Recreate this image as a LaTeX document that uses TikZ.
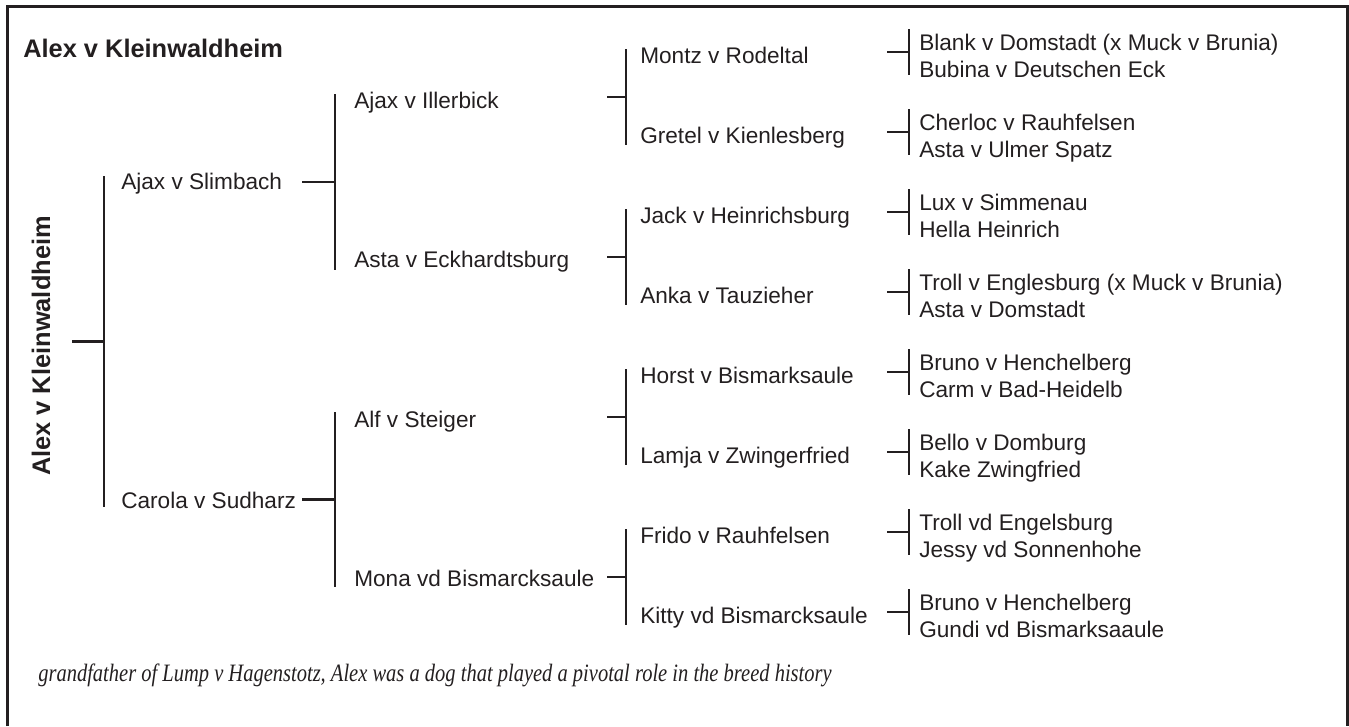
\documentclass[tikz,border=0pt]{standalone}
\usepackage{fontspec}
\setmainfont{Liberation Sans}
\newfontfamily\notefont[ItalicFeatures={FakeStretch=0.82}]{Liberation Serif}
\usepackage{xcolor}
\usetikzlibrary{calc}
\definecolor{ink}{RGB}{35,31,32}
% bar in front of two children, tick from its middle back to the parent
\newcommand{\bracket}[6]{%
  \draw ($(#1.base west)+(-#3,#5)$) coordinate (bt) -- ($(#2.base west)+(-#3,#6)$) coordinate (bb);
  \draw ($(bt)!0.5!(bb)$) -- ++(-#4,0);}

\begin{document}
\begin{tikzpicture}[x=1pt,y=-1pt,line width=2.6pt,ink,
  dog/.style={anchor=base west,inner sep=0pt,text=ink,font=\fontsize{22.6}{27}\selectfont},
  head/.style={inner sep=0pt,text=ink,font=\bfseries\fontsize{25.4}{30}\selectfont}]
\useasboundingbox (0,0) rectangle (1349,726);
% frame, open at the foot
\draw[line width=3pt] (7,726) -- (7,6) -- (1347,6) -- (1347,726);

\node[head,anchor=base west] (title) at (22,57) {Alex v Kleinwaldheim};
\node[head,anchor=base,rotate=90] (alex) at (50,346) {Alex v Kleinwaldheim};

% parents
\node[dog] (slimbach) at (120,189) {Ajax v Slimbach};
\node[dog] (sudharz)  at (120,508) {Carola v Sudharz};

% grandparents
\node[dog] (illerbick) at (353,108) {Ajax v Illerbick};
\node[dog] (eckhardt)  at (353,267) {Asta v Eckhardtsburg};
\node[dog] (steiger)   at (353,427) {Alf v Steiger};
\node[dog] (monavd)    at (353,586) {Mona vd Bismarcksaule};

% great-grandparents
\node[dog] (rodeltal)  at (639,63)  {Montz v Rodeltal};
\node[dog] (kienles)   at (639,143) {Gretel v Kienlesberg};
\node[dog] (heinrichs) at (639,223) {Jack v Heinrichsburg};
\node[dog] (tauzieher) at (639,303) {Anka v Tauzieher};
\node[dog] (horst)     at (639,383) {Horst v Bismarksaule};
\node[dog] (lamja)     at (639,463) {Lamja v Zwingerfried};
\node[dog] (frido)     at (639,543) {Frido v Rauhfelsen};
\node[dog] (kitty)     at (639,623) {Kitty vd Bismarcksaule};

% great-great-grandparents
\node[dog] (blank)    at (918,50)  {Blank v Domstadt (x Muck v Brunia)};
\node[dog] (bubina)   at (918,77)  {Bubina v Deutschen Eck};
\node[dog] (cherloc)  at (918,130) {Cherloc v Rauhfelsen};
\node[dog] (ulmer)    at (918,157) {Asta v Ulmer Spatz};
\node[dog] (lux)      at (918,210) {Lux v Simmenau};
\node[dog] (hella)    at (918,237) {Hella Heinrich};
\node[dog] (trollv)   at (918,290) {Troll v Englesburg (x Muck v Brunia)};
\node[dog] (domstadt) at (918,317) {Asta v Domstadt};
\node[dog] (brunoa)   at (918,370) {Bruno v Henchelberg};
\node[dog] (carm)     at (918,397) {Carm v Bad-Heidelb};
\node[dog] (bello)    at (918,450) {Bello v Domburg};
\node[dog] (kake)     at (918,477) {Kake Zwingfried};
\node[dog] (trollvd)  at (918,530) {Troll vd Engelsburg};
\node[dog] (jessy)    at (918,557) {Jessy vd Sonnenhohe};
\node[dog] (brunob)   at (918,610) {Bruno v Henchelberg};
\node[dog] (gundi)    at (918,637) {Gundi vd Bismarksaaule};

\node[anchor=base west,inner sep=0pt,text=ink,font=\notefont\itshape\fontsize{25}{30}\selectfont] (note) at (37,681)
  {grandfather of Lump v Hagenstotz, Alex was a dog that played a pivotal role in the breed history};

% connectors
\bracket{slimbach}{sudharz}{16}{32}{-13}{-1}
\bracket{illerbick}{eckhardt}{18}{33}{-14}{3}
\bracket{steiger}{monavd}{18}{33}{-15}{1}
\foreach \a/\b in {rodeltal/kienles,heinrichs/tauzieher,horst/lamja,frido/kitty}
  {\bracket{\a}{\b}{13}{19}{-14}{2}}
\foreach \a/\b in {blank/bubina,cherloc/ulmer,lux/hella,trollv/domstadt,brunoa/carm,bello/kake,trollvd/jessy,brunob/gundi}
  {\bracket{\a}{\b}{9}{22}{-21}{-2}}
\end{tikzpicture}
\end{document}
